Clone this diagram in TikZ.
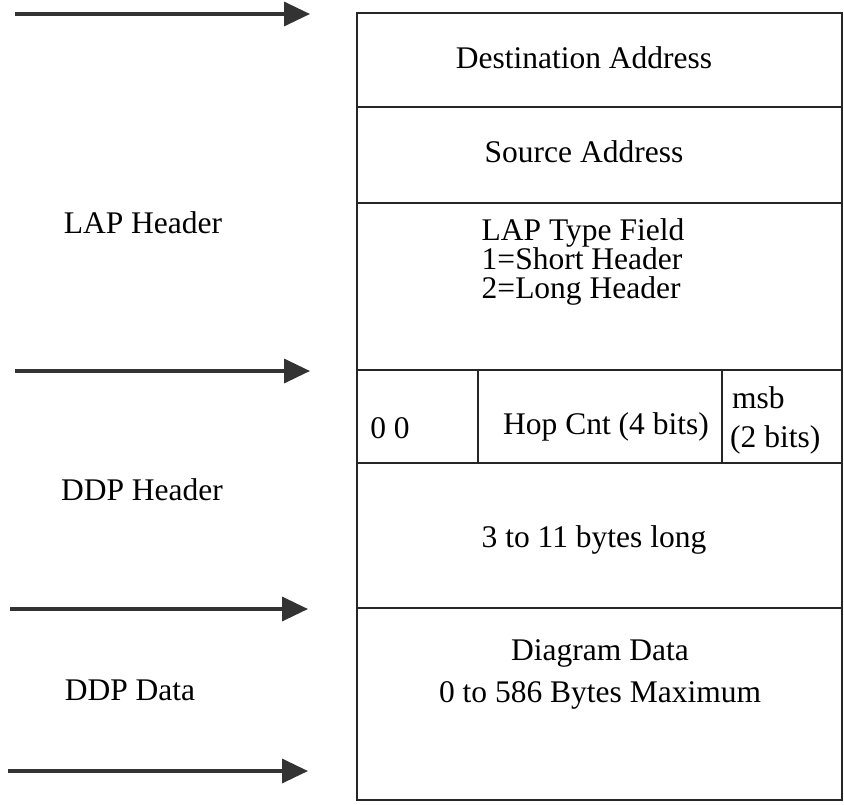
\documentclass[tikz,border=0pt]{standalone}
\usepackage{fontspec}
\setmainfont{Liberation Serif}
\usetikzlibrary{arrows.meta}
\begin{document}
\begin{tikzpicture}[x=1pt,y=-1pt,
  hline/.style={line width=2.6pt, black!85},
  vline/.style={line width=1.8pt, black!85},
  ptr/.style={line width=3.5pt, black!80, -{Triangle[length=26pt,width=24pt]}},
  lbl/.style={font=\fontsize{31.5}{36}\selectfont, inner sep=0pt},
  fld/.style={font=\fontsize{31.5}{36}\selectfont, inner sep=0pt, align=center},
]
\useasboundingbox (0,0) rectangle (844,804);
% frame
\draw[hline] (357,13) -- (842,13);
\draw[hline] (357,107) -- (842,107);
\draw[hline] (357,203) -- (842,203);
\draw[hline] (357,370) -- (842,370);
\draw[hline] (357,463) -- (842,463);
\draw[hline] (357,608) -- (842,608);
\draw[hline] (357,800) -- (842,800);
\draw[vline] (357,12) -- (357,801);
\draw[vline] (842,12) -- (842,801);
\draw[vline] (478,370) -- (478,463);
\draw[vline] (722,370) -- (722,463);
% arrows
\coordinate (a1s) at (15,14);  \coordinate (a1e) at (310,14);
\coordinate (a2s) at (15,371); \coordinate (a2e) at (310,371);
\coordinate (a3s) at (10,609); \coordinate (a3e) at (308,609);
\coordinate (a4s) at (8,771);  \coordinate (a4e) at (308,771);
\draw[ptr] (a1s) -- (a1e);
\draw[ptr] (a2s) -- (a2e);
\draw[ptr] (a3s) -- (a3e);
\draw[ptr] (a4s) -- (a4e);
% left labels
\node[lbl] (laph) at (143,223) {LAP Header};
\node[lbl] (ddph) at (142,490) {DDP Header};
\node[lbl] (ddpd) at (130,690) {DDP Data};
% fields
\node[fld] (dst) at (584,58) {Destination Address};
\node[fld] (src) at (584,152) {Source Address};
\node[fld, align=left] (typ) at (583,262) {LAP Type Field\\[-7pt]1=Short Header\\[-7pt]2=Long Header};
\node[fld] (zz) at (390,428) {0 0};
\node[fld] (hop) at (606,427) {Hop Cnt (4 bits)};
\node[fld, anchor=west] (msb) at (732,398) {msb};
\node[fld, anchor=west] (bits) at (730,440) {(2 bits)};
\node[fld] (len) at (594,540) {3 to 11 bytes long};
\node[fld] (dd) at (600,653) {Diagram Data};
\node[fld] (max) at (600,695) {0 to 586 Bytes Maximum};
\end{tikzpicture}
\end{document}
